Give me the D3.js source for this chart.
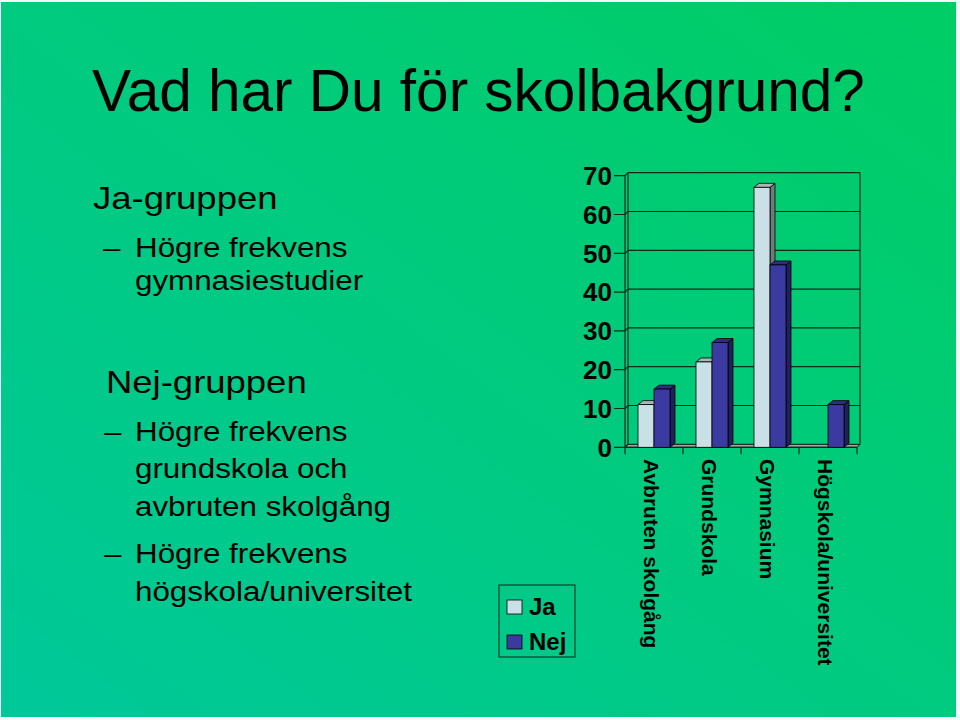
<!DOCTYPE html>
<html>
<head>
<meta charset="utf-8">
<script src="https://cdn.jsdelivr.net/npm/d3@7"></script>
<style>
  body { margin: 0; background: #f4fbf7; }
  svg { display: block; }
</style>
</head>
<body>
<svg id="slide"></svg>
<script>
// data
var categories = ["Avbruten skolgång", "Grundskola", "Gymnasium", "Högskola/universitet"];
var seriesNames = ["Ja", "Nej"];
var jaValues = [11, 22, 67, 0];
var nejValues = [15, 27, 47, 11];
var yTicks = [0, 10, 20, 30, 40, 50, 60, 70];

var svg = d3.select("#slide")
    .attr("width", 960)
    .attr("height", 720);

// green slide background
var grad = svg.append("defs").append("linearGradient")
    .attr("id", "bg")
    .attr("x1", "0").attr("y1", "1")
    .attr("x2", "1").attr("y2", "0");
grad.append("stop").attr("offset", "0%").attr("stop-color", "#00c89a");
grad.append("stop").attr("offset", "100%").attr("stop-color", "#00cd64");

svg.append("rect")
    .attr("x", 1).attr("y", 2)
    .attr("width", 955).attr("height", 715)
    .attr("fill", "url(#bg)");

var font = "'Liberation Sans', Arial, Helvetica, sans-serif";

svg.append("text")
    .attr("x", 92).attr("y", 111)
    .attr("font-family", font)
    .attr("font-size", 58.5)
    .attr("fill", "#000")
    .text("Vad har Du för skolbakgrund?");

// bullet text (slightly stretched wide like the original)
var bullets = [
  {level: 1, x: 93, y: 209, text: "Ja-gruppen"},
  {level: 2, x: 135, y: 257, text: "Högre frekvens", dash: 103},
  {level: 2, x: 135, y: 290, text: "gymnasiestudier"},
  {level: 1, x: 106, y: 393, text: "Nej-gruppen"},
  {level: 2, x: 135, y: 441, text: "Högre frekvens", dash: 104},
  {level: 2, x: 135, y: 478, text: "grundskola och"},
  {level: 2, x: 135, y: 516, text: "avbruten skolgång"},
  {level: 2, x: 135, y: 563, text: "Högre frekvens", dash: 104},
  {level: 2, x: 135, y: 601, text: "högskola/universitet"}
];

bullets.forEach(function(b) {
  var size = b.level == 1 ? 32 : 27.5;
  svg.append("text")
      .attr("transform", "translate(" + b.x + "," + b.y + ") scale(1.14,1)")
      .attr("font-family", font)
      .attr("font-size", size)
      .text(b.text);
  if (b.dash) {
    svg.append("text")
        .attr("transform", "translate(" + b.dash + "," + b.y + ") scale(1.14,1)")
        .attr("font-family", font)
        .attr("font-size", size)
        .text("–");
  }
});

// chart
var left = 625, right = 857;
var wx = 3, wy = 3;            // offset of the back wall
var bd = 5, bdy = 4;           // bar depth

var x = d3.scaleBand().domain(categories).range([left, right]);
var xs = d3.scaleBand().domain(seriesNames).range([0, 32]);
var y = d3.scaleLinear().domain([0, 70]).range([447.3, 175.7]);

var chart = svg.append("g");

// back wall gridlines
chart.selectAll(".grid")
  .data(yTicks.slice(1))
  .enter().append("line")
    .attr("x1", left + wx).attr("x2", right + wx)
    .attr("y1", function(d) { return y(d) - wy; })
    .attr("y2", function(d) { return y(d) - wy; })
    .attr("stroke", "#0a2a1a").attr("stroke-width", 1.2);

// wall edges
chart.append("line")
    .attr("x1", left + wx).attr("x2", left + wx)
    .attr("y1", y(70) - wy).attr("y2", y(0) - wy)
    .attr("stroke", "#0a2a1a").attr("stroke-width", 1.2);
chart.append("line")
    .attr("x1", right + wx).attr("x2", right + wx)
    .attr("y1", y(70) - wy).attr("y2", y(0) - wy)
    .attr("stroke", "#0a2a1a").attr("stroke-width", 1.2);

// floor
chart.append("polygon")
    .attr("points", [[left, y(0)], [right, y(0)], [right + wx, y(0) - wy], [left + wx, y(0) - wy]].join(" "))
    .attr("fill", "#a4a4a4")
    .attr("stroke", "#111").attr("stroke-width", 1);

// front value axis with ticks that bend into the wall
chart.append("line")
    .attr("x1", left).attr("x2", left)
    .attr("y1", y(70)).attr("y2", y(0))
    .attr("stroke", "#0a2a1a").attr("stroke-width", 1.2);

chart.selectAll(".ytick")
  .data(yTicks)
  .enter().append("polyline")
    .attr("points", function(d) {
      return [[left - 11, y(d)], [left, y(d)], [left + wx, y(d) - wy]].join(" ");
    })
    .attr("fill", "none")
    .attr("stroke", "#0a2a1a").attr("stroke-width", 1.2);

chart.selectAll(".ylabel")
  .data(yTicks)
  .enter().append("text")
    .attr("x", 612)
    .attr("y", function(d) { return y(d); })
    .attr("dy", "0.36em")
    .attr("text-anchor", "end")
    .attr("font-family", font)
    .attr("font-weight", "bold")
    .attr("font-size", 26)
    .text(function(d) { return d; });

// category axis
chart.append("line")
    .attr("x1", left).attr("x2", right)
    .attr("y1", y(0)).attr("y2", y(0))
    .attr("stroke", "#0a2a1a").attr("stroke-width", 1.2);

var catTicks = categories.map(function(c) { return x(c); }).concat([right]);
chart.selectAll(".xtick")
  .data(catTicks)
  .enter().append("line")
    .attr("x1", function(d) { return d; })
    .attr("x2", function(d) { return d; })
    .attr("y1", y(0)).attr("y2", y(0) + 7)
    .attr("stroke", "#0a2a1a").attr("stroke-width", 1.2);

chart.selectAll(".xlabel")
  .data(categories)
  .enter().append("text")
    .attr("transform", function(d) {
      return "translate(" + (x(d) + x.bandwidth() / 2 - 3) + ",459) rotate(90)";
    })
    .attr("dy", "0.35em")
    .attr("font-family", font)
    .attr("font-weight", "bold")
    .attr("font-size", 21)
    .text(function(d) { return d; });

// bars
var colors = {
  Ja:  {front: "#c8e0e6", top: "#aab6b6", side: "#6f7b7b"},
  Nej: {front: "#3a3aa0", top: "#2d2d86", side: "#20205c"}
};

var bars = [];
categories.forEach(function(c, i) {
  bars.push({cat: c, s: "Ja", v: jaValues[i]});
  bars.push({cat: c, s: "Nej", v: nejValues[i]});
});

var barW = xs.bandwidth();
var inset = (x.bandwidth() - 32) / 2;

var barG = chart.selectAll(".bar")
  .data(bars.filter(function(d) { return d.v > 0; }))
  .enter().append("g")
    .attr("class", "bar");

barG.append("polygon")
    .attr("points", function(d) {
      var x0 = x(d.cat) + inset + xs(d.s) + barW, yt = y(d.v), yb = y(0);
      return [[x0, yt], [x0 + bd, yt - bdy], [x0 + bd, yb - bdy], [x0, yb]].join(" ");
    })
    .attr("fill", function(d) { return colors[d.s].side; })
    .attr("stroke", "#000").attr("stroke-width", 0.8);

barG.append("polygon")
    .attr("points", function(d) {
      var x0 = x(d.cat) + inset + xs(d.s), yt = y(d.v);
      return [[x0, yt], [x0 + bd, yt - bdy], [x0 + barW + bd, yt - bdy], [x0 + barW, yt]].join(" ");
    })
    .attr("fill", function(d) { return colors[d.s].top; })
    .attr("stroke", "#000").attr("stroke-width", 0.8);

barG.append("rect")
    .attr("x", function(d) { return x(d.cat) + inset + xs(d.s); })
    .attr("y", function(d) { return y(d.v); })
    .attr("width", barW)
    .attr("height", function(d) { return y(0) - y(d.v); })
    .attr("fill", function(d) { return colors[d.s].front; })
    .attr("stroke", "#000").attr("stroke-width", 0.8);

// legend
var legend = svg.append("g");
legend.append("rect")
    .attr("x", 499).attr("y", 585)
    .attr("width", 76).attr("height", 72)
    .attr("fill", "none")
    .attr("stroke", "#17402c").attr("stroke-width", 1.2);

var legY = d3.scalePoint().domain(seriesNames).range([607, 642]);

legend.selectAll(".sw")
  .data(seriesNames)
  .enter().append("rect")
    .attr("x", 507)
    .attr("y", function(d) { return legY(d) - 7; })
    .attr("width", 15).attr("height", 14)
    .attr("fill", function(d) { return colors[d].front; })
    .attr("stroke", "#000").attr("stroke-width", 0.8);

legend.selectAll(".lt")
  .data(seriesNames)
  .enter().append("text")
    .attr("x", 529)
    .attr("y", function(d) { return legY(d) + 8; })
    .attr("font-family", font)
    .attr("font-weight", "bold")
    .attr("font-size", 24)
    .text(function(d) { return d; });
</script>
</body>
</html>
